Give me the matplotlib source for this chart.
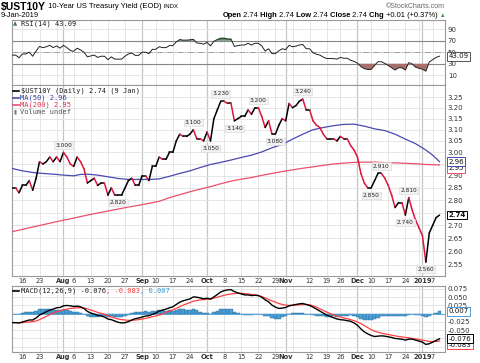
import numpy as np
import pandas as pd
import matplotlib
matplotlib.use("Agg")
import matplotlib.pyplot as plt
from matplotlib.collections import LineCollection
from matplotlib.lines import Line2D
from matplotlib.ticker import FixedLocator, NullLocator, FuncFormatter

# ---- data ----
first_day = "2018-07-11"
last_day = "2019-01-09"
closed_days = ["2018-09-03", "2018-11-22", "2018-12-05", "2018-12-25", "2019-01-01"]

close = [2.85, 2.85, 2.83, 2.86, 2.86, 2.88, 2.84, 2.89, 2.96, 2.95,
         2.96, 2.98, 2.96, 2.98, 2.96, 3.00, 2.98, 2.95, 2.94, 2.98,
         2.96, 2.93, 2.87, 2.88, 2.89, 2.86, 2.87, 2.87, 2.82, 2.85,
         2.82, 2.82, 2.82, 2.85, 2.88, 2.89, 2.86, 2.86, 2.90, 2.90,
         2.88, 2.94, 2.94, 2.98, 2.97, 2.97, 3.00, 3.00, 3.05, 3.08,
         3.07, 3.07, 3.08, 3.10, 3.06, 3.06, 3.05, 3.09, 3.05, 3.15,
         3.19, 3.23, 3.23, 3.22, 3.22, 3.14, 3.15, 3.16, 3.16, 3.19,
         3.17, 3.20, 3.20, 3.16, 3.11, 3.14, 3.08, 3.08, 3.12, 3.15,
         3.14, 3.22, 3.20, 3.21, 3.23, 3.24, 3.19, 3.19, 3.14, 3.12,
         3.11, 3.08, 3.06, 3.06, 3.06, 3.05, 3.07, 3.06, 3.06, 3.03,
         3.01, 2.98, 2.91, 2.87, 2.85, 2.85, 2.88, 2.91, 2.91, 2.89,
         2.86, 2.82, 2.77, 2.79, 2.79, 2.74, 2.81, 2.76, 2.72, 2.69,
         2.66, 2.56, 2.67, 2.70, 2.73, 2.74]

rsi = [44.8, 45.0, 40.5, 47.0, 47.0, 50.0, 43.0, 52.0, 60.0, 58.0,
       59.5, 62.0, 58.0, 61.0, 57.0, 62.0, 58.0, 53.0, 51.5, 57.0,
       54.0, 50.0, 42.0, 43.5, 45.0, 41.0, 43.0, 43.0, 37.0, 42.0,
       38.0, 38.0, 38.0, 43.0, 47.0, 48.5, 44.5, 44.5, 50.0, 50.0,
       47.5, 55.0, 55.0, 59.5, 58.0, 58.0, 61.5, 61.5, 68.0, 72.0,
       71.0, 71.0, 71.5, 72.5, 66.0, 65.5, 64.0, 67.0, 61.0, 69.0,
       72.0, 74.5, 74.5, 73.0, 73.0, 60.0, 61.5, 62.5, 62.5, 65.5,
       62.5, 65.5, 65.5, 61.0, 52.0, 56.0, 47.5, 47.5, 52.5, 56.0,
       54.5, 62.0, 59.5, 60.5, 62.5, 63.5, 56.0, 56.0, 49.0, 46.5,
       45.0, 41.5, 39.0, 39.0, 39.0, 38.0, 41.0, 39.5, 39.5, 36.0,
       34.0, 31.0, 25.0, 21.5, 20.0, 20.0, 27.0, 33.5, 33.5, 30.5,
       27.0, 23.0, 19.0, 23.0, 23.0, 19.0, 32.0, 29.5, 24.0, 22.0,
       20.5, 17.0, 33.0, 37.0, 41.0, 43.09]

macd = [-0.027, -0.027, -0.028, -0.025, -0.022, -0.019, -0.019, -0.013, -0.004, 0.001,
        0.006, 0.011, 0.014, 0.018, 0.019, 0.024, 0.025, 0.024, 0.022, 0.023,
        0.021, 0.016, 0.007, 0.002, -0.001, -0.005, -0.007, -0.010, -0.016, -0.018,
        -0.022, -0.026, -0.028, -0.027, -0.024, -0.019, -0.015, -0.013, -0.010, -0.007,
        -0.006, -0.002, 0.002, 0.008, 0.011, 0.014, 0.018, 0.021, 0.028, 0.035,
        0.039, 0.042, 0.045, 0.051, 0.050, 0.048, 0.045, 0.047, 0.044, 0.051,
        0.058, 0.066, 0.070, 0.072, 0.073, 0.067, 0.063, 0.060, 0.057, 0.057,
        0.055, 0.056, 0.055, 0.050, 0.042, 0.036, 0.026, 0.020, 0.016, 0.017,
        0.019, 0.024, 0.026, 0.028, 0.030, 0.031, 0.028, 0.025, 0.020, 0.014,
        0.008, 0.002, -0.004, -0.008, -0.012, -0.016, -0.018, -0.019, -0.021, -0.023,
        -0.028, -0.035, -0.046, -0.055, -0.061, -0.066, -0.069, -0.068, -0.067, -0.068,
        -0.070, -0.072, -0.075, -0.076, -0.077, -0.080, -0.077, -0.077, -0.080, -0.083,
        -0.086, -0.093, -0.091, -0.086, -0.081, -0.076]

signal = [-0.027, -0.027, -0.027, -0.027, -0.026, -0.025, -0.024, -0.022, -0.018, -0.013,
          -0.008, -0.003, 0.002, 0.006, 0.009, 0.012, 0.014, 0.016, 0.017, 0.018,
          0.018, 0.017, 0.015, 0.011, 0.008, 0.004, 0.001, -0.002, -0.005, -0.010,
          -0.013, -0.016, -0.018, -0.019, -0.020, -0.020, -0.019, -0.018, -0.016, -0.014,
          -0.012, -0.009, -0.007, -0.004, -0.001, 0.005, 0.008, 0.012, 0.016, 0.021,
          0.026, 0.030, 0.034, 0.038, 0.040, 0.042, 0.043, 0.044, 0.045, 0.047,
          0.050, 0.053, 0.056, 0.058, 0.060, 0.061, 0.062, 0.062, 0.061, 0.060,
          0.058, 0.057, 0.055, 0.052, 0.048, 0.043, 0.039, 0.035, 0.031, 0.028,
          0.026, 0.025, 0.025, 0.026, 0.027, 0.028, 0.028, 0.027, 0.024, 0.020,
          0.015, 0.010, 0.005, 0.001, -0.004, -0.007, -0.010, -0.013, -0.015, -0.018,
          -0.021, -0.025, -0.030, -0.036, -0.042, -0.048, -0.053, -0.056, -0.059, -0.061,
          -0.063, -0.065, -0.067, -0.069, -0.070, -0.072, -0.073, -0.075, -0.076, -0.078,
          -0.080, -0.082, -0.084, -0.084, -0.084, -0.083]

ma_dates = ["2018-07-11", "2018-07-16", "2018-07-19", "2018-07-24", "2018-07-27",
            "2018-08-01", "2018-08-06", "2018-08-08", "2018-08-10", "2018-08-15",
            "2018-08-20", "2018-08-23", "2018-08-28", "2018-08-31", "2018-09-06",
            "2018-09-11", "2018-09-14", "2018-09-19", "2018-09-24", "2018-09-27",
            "2018-10-02", "2018-10-05", "2018-10-10", "2018-10-15", "2018-10-18",
            "2018-10-23", "2018-10-26", "2018-10-31", "2018-11-05", "2018-11-08",
            "2018-11-13", "2018-11-16", "2018-11-21", "2018-11-27", "2018-11-30",
            "2018-12-06", "2018-12-11", "2018-12-14", "2018-12-19", "2018-12-24",
            "2018-12-28", "2019-01-03", "2019-01-07", "2019-01-09"]
ma50 = [2.931, 2.921, 2.914, 2.910, 2.907, 2.903, 2.900, 2.906, 2.907, 2.903,
        2.896, 2.889, 2.885, 2.885, 2.885, 2.887, 2.898, 2.910, 2.921, 2.935,
        2.948, 2.957, 2.967, 2.978, 2.988, 3.002, 3.020, 3.035, 3.058, 3.080,
        3.100, 3.110, 3.118, 3.124, 3.125, 3.116, 3.104, 3.096, 3.080, 3.058,
        3.038, 3.010, 2.988, 2.960]
ma200 = [2.675, 2.684, 2.693, 2.702, 2.711, 2.720, 2.728, 2.734, 2.740, 2.748,
         2.756, 2.764, 2.772, 2.779, 2.787, 2.795, 2.810, 2.822, 2.834, 2.845,
         2.855, 2.867, 2.878, 2.886, 2.893, 2.902, 2.910, 2.918, 2.925, 2.932,
         2.938, 2.944, 2.950, 2.954, 2.957, 2.958, 2.958, 2.956, 2.955, 2.953,
         2.951, 2.948, 2.947, 2.946]

# swing labels: date, value, above/below
swing_dates = ["2018-08-01", "2018-08-23", "2018-09-25", "2018-10-02", "2018-10-05",
               "2018-10-11", "2018-10-22", "2018-10-29", "2018-11-08", "2018-12-10",
               "2018-12-13", "2018-12-24", "2018-12-26", "2019-01-03"]
swing_values = [3.00, 2.82, 3.10, 3.05, 3.23, 3.14, 3.20, 3.08, 3.24, 2.85, 2.91, 2.74, 2.81, 2.56]
swing_above = [True, False, True, False, True, False, True, False, True, False, True, False, True, False]

main_ticks = [2.55, 2.60, 2.65, 2.70, 2.75, 2.80, 2.85, 2.90, 2.95, 3.00, 3.05, 3.10, 3.15, 3.20, 3.25]
rsi_ticks = [10, 30, 50, 70, 90]
macd_ticks = [0.075, 0.050, 0.025, 0.000, -0.025, -0.050, -0.075, -0.100]
# tick labels hidden behind the last-value boxes in the reference
main_hidden = [2.75, 2.95]
macd_hidden = [0.000, -0.075]

# ---- setup ----
plt.rcParams['font.family'] = ['DejaVu Sans']
W, H = 480, 363
fig = plt.figure(figsize=(W / 100, H / 100), dpi=100)
fig.patch.set_facecolor("white")

def fx(px):
    return px / W

def fy(py):
    return 1 - py / H

def panel(top, bottom):
    return fig.add_axes([fx(12), fy(bottom), (445 - 12) / W, (bottom - top) / H])

ax_rsi = panel(20, 85)
ax = panel(85, 276)
ax_macd = panel(286, 352)

days = pd.bdate_range(first_day, last_day)
days = days[~days.isin(pd.to_datetime(closed_days))]
n = len(days)
x = np.arange(n)
pos = {d.strftime("%Y-%m-%d"): i for i, d in enumerate(days)}

close = np.array(close)
rsi = np.array(rsi)
macd = np.array(macd)
signal = np.array(signal)
hist = macd - signal
ma_x = [pos[d] for d in ma_dates]

# week / month starts for grid and tick labels
week_idx, month_idx = [], []
for i in range(1, n):
    if days[i].isocalendar()[1] != days[i - 1].isocalendar()[1]:
        week_idx.append(i)
    if days[i].month != days[i - 1].month:
        month_idx.append(i)

tick_pos, tick_lab, tick_bold = [], [], []
for i in sorted(set(week_idx) | set(month_idx)):
    if i in month_idx:
        tick_pos.append(i)
        tick_lab.append(str(days[i].year) if days[i].month == 1 else days[i].strftime("%b"))
        tick_bold.append(True)
    elif min(abs(i - m) for m in month_idx) > 2:
        tick_pos.append(i)
        tick_lab.append(str(days[i].day))
        tick_bold.append(False)

grid_c = "#e2e2e2"
for a in (ax_rsi, ax, ax_macd):
    a.set_xlim(-0.05, 126.6)
    for i in week_idx:
        a.axvline(i, color=grid_c, lw=0.6, zorder=0)
    for i in month_idx:
        a.axvline(i, color="#c6c6c6", lw=0.9, zorder=0)
    a.grid(axis="y", color=grid_c, lw=0.6)
    a.set_axisbelow(True)
    for s in a.spines.values():
        s.set_color("#9a9a9a")
        s.set_linewidth(0.8)
    a.yaxis.tick_right()
    a.tick_params(axis="y", length=0, pad=2, labelsize=5, labelcolor="#333333")
    a.tick_params(axis="x", length=0, pad=1.5, labelsize=4.8, labelcolor="#333333")

for a in (ax, ax_macd):
    a.set_xticks(tick_pos)
    a.set_xticklabels(tick_lab)
    for lab, b in zip(a.get_xticklabels(), tick_bold):
        if b:
            lab.set_fontweight("bold")
ax_rsi.set_xticks(tick_pos)
ax_rsi.tick_params(axis="x", labelbottom=False)

def tick_fmt(fmt, hidden):
    return FuncFormatter(lambda v, p: "" if any(abs(v - h) < 1e-9 for h in hidden) else fmt % v)

# ---- RSI panel ----
ax_rsi.set_ylim(-7, 106)
ax_rsi.set_yticks(rsi_ticks)
ax_rsi.axhline(70, color="#858585", lw=0.8, zorder=1)
ax_rsi.axhline(30, color="#858585", lw=0.8, zorder=1)
ax_rsi.axhline(50, color="#a0a0a0", lw=0.7, ls="-.", zorder=1)
ax_rsi.fill_between(x, rsi, 70, where=rsi > 70, interpolate=True, color="#5b8c5b", lw=0, zorder=2)
ax_rsi.fill_between(x, rsi, 30, where=rsi < 30, interpolate=True, color="#a9706b", lw=0, zorder=2)
ax_rsi.plot(x, rsi, color="#222222", lw=0.7, zorder=3)

# ---- price panel ----
ax.set_yscale("log")
ax.set_ylim(2.509, 3.307)
ax.yaxis.set_major_locator(FixedLocator(main_ticks))
ax.yaxis.set_major_formatter(tick_fmt("%.2f", main_hidden))
ax.yaxis.set_minor_locator(NullLocator())

ax.plot(ma_x, ma200, color="#e8506a", lw=0.9, zorder=3)
ax.plot(ma_x, ma50, color="#4a4aae", lw=0.9, zorder=3)

pts = np.column_stack([x, close])
segs = np.stack([pts[:-1], pts[1:]], axis=1)
cols = ["#e0143c" if b < a else "black" for a, b in zip(close[:-1], close[1:])]
ax.add_collection(LineCollection(segs, colors=cols, linewidths=1.1, capstyle="round",
                                 joinstyle="round", zorder=4))

for d, v, up in zip(swing_dates, swing_values, swing_above):
    ax.annotate(f"{v:.3f}", xy=(pos[d], v), xytext=(0, 3.5 if up else -3.5),
                textcoords="offset points", ha="center", va="bottom" if up else "top",
                fontsize=4.2, color="#222222", zorder=6,
                bbox=dict(boxstyle="square,pad=0.2", fc="#f2f2f2", ec="#d6d6d6", lw=0.4))

# ---- MACD panel ----
ax_macd.set_ylim(-0.116, 0.084)
ax_macd.set_yticks(macd_ticks)
ax_macd.yaxis.set_major_formatter(tick_fmt("%.3f", macd_hidden))
ax_macd.bar(x, hist, width=1.0, color="#4b9fd5", edgecolor="#2a6d9c", linewidth=0.3, zorder=2)
ax_macd.axhline(0, color="#4b9fd5", lw=0.6, zorder=2)
ax_macd.plot(x, signal, color="#ff4040", lw=0.9, zorder=3)
ax_macd.plot(x, macd, color="black", lw=1.0, zorder=4)

# ---- value boxes at the right edge ----
def value_box(a, txt, v, ec, dy=0, weight="normal"):
    a.annotate(txt, xy=(1, v), xycoords=("axes fraction", "data"), xytext=(2.5, dy),
               textcoords="offset points", ha="left", va="center", fontsize=5,
               fontweight=weight, color="#111111", annotation_clip=False, zorder=7,
               bbox=dict(boxstyle="square,pad=0.2", fc="white", ec=ec, lw=0.7))

value_box(ax_rsi, f"{rsi[-1]:.2f}", rsi[-1], "#555555")
value_box(ax, f"{ma200[-1]:.2f}", ma200[-1], "#e8506a", dy=-2.5)
value_box(ax, f"{ma50[-1]:.2f}", ma50[-1], "#4a4aae")
value_box(ax, f"{close[-1]:.2f}", close[-1], "black", weight="bold")
value_box(ax_macd, f"{signal[-1]:.3f}", signal[-1], "#ff4040", dy=-2.5)
value_box(ax_macd, f"{hist[-1]:.3f}", hist[-1], "#4b9fd5")
value_box(ax_macd, f"{macd[-1]:.3f}", macd[-1], "black")

# ---- header and legends ----
renderer = fig.canvas.get_renderer()

def text_run(x_px, y_px, pieces, align="left"):
    arts = [fig.text(0, fy(y_px), s, va="center", ha="left", **kw) for s, kw in pieces]
    widths = [t.get_window_extent(renderer).width for t in arts]
    if align == "right":
        x_px -= sum(widths)
    for t, w in zip(arts, widths):
        t.set_x(fx(x_px))
        x_px += w

hdr = ["Liberation Sans", "DejaVu Sans"]
text_run(1, 7, [("$UST10Y", dict(family=hdr, fontsize=7.5, fontweight="bold")),
                (" 10-Year US Treasury Yield (EOD)", dict(family=hdr, fontsize=5.5)),
                (" INDX", dict(family=hdr, fontsize=4.3))])
fig.text(fx(1), fy(15.5), "9-Jan-2019", va="center", family=hdr, fontsize=5.4)
fig.text(fx(445), fy(6), "©StockCharts.com", va="center", ha="right", family=hdr,
         fontsize=5, color="#666666")
B = dict(family=hdr, fontsize=5.4, fontweight="bold")
N = dict(family=hdr, fontsize=5.4)
text_run(445, 15.5, [("Open", B), (" 2.74", N), (" High", B), (" 2.74", N), (" Low", B),
                     (" 2.74", N), (" Close", B), (" 2.74", N), (" Chg", B),
                     (" +0.01 (+0.37%) ", N),
                     ("▲", dict(family=hdr, fontsize=4, color="#2e9a2e"))], align="right")

mono = dict(family="DejaVu Sans Mono", fontsize=5)

def legend_dash(y_px, color):
    fig.add_artist(Line2D([fx(13), fx(19)], [fy(y_px), fy(y_px)], color=color, lw=1.2))

fig.text(fx(13), fy(24), "▲", va="center", fontsize=4, color="#3f7f3f")
fig.text(fx(21), fy(24), f"RSI(14) {rsi[-1]:.2f}", va="center", color="#222222", **mono)

legend_dash(91, "black")
fig.text(fx(21), fy(91), "$UST10Y (Daily) 2.74 (9 Jan)", va="center", color="#222222", **mono)
legend_dash(98, "#4a4aae")
fig.text(fx(20), fy(98), f"MA(50) {ma50[-1]:.2f}", va="center", color="#3a3aa0", **mono)
legend_dash(105, "#e8506a")
fig.text(fx(20), fy(105), f"MA(200) {ma200[-1]:.2f}", va="center", color="#e0304a", **mono)
fig.text(fx(13), fy(112), "▮", va="center", fontsize=4, color="#777777")
fig.text(fx(20), fy(112), "Volume undef", va="center", color="#555555", **mono)

legend_dash(290.7, "black")
text_run(21, 290.7, [(f"MACD(12,26,9) {macd[-1]:.3f}", dict(color="#222222", **mono)),
                     (f", {signal[-1]:.3f}", dict(color="#ff4040", **mono)),
                     (f", {hist[-1]:.3f}", dict(color="#3a9ad9", **mono))])

fig.savefig("out.png", dpi=100, facecolor="white")
